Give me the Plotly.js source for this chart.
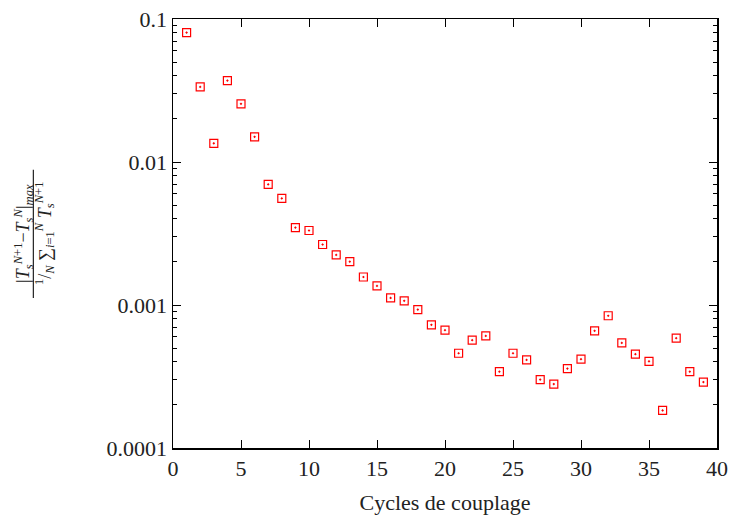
<!DOCTYPE html>
<html>
<head>
<meta charset="utf-8">
<script src="https://cdn.plot.ly/plotly-3.0.1.min.js"></script>
<style>html,body{margin:0;padding:0;background:#fff;}#chart{width:738px;height:524px;}</style>
</head>
<body>
<div id="chart"></div>
<script>
const cycles = [1,2,3,4,5,6,7,8,9,10,11,12,13,14,15,16,17,18,19,20,21,22,23,24,25,26,27,28,29,30,31,32,33,34,35,36,37,38,39];
const residual = [0.0804,0.0335,0.0135,0.0371,0.0255,0.0150,0.00697,0.00556,0.00348,0.00332,0.00265,0.00224,0.00201,0.00157,0.00136,0.00112,0.00107,0.000929,0.000727,0.000667,0.000460,0.000568,0.000608,0.000342,0.000460,0.000413,0.000301,0.000280,0.000359,0.000418,0.000660,0.000841,0.000543,0.000453,0.000404,0.000183,0.000586,0.000342,0.000289];
const yTickVals = [0.0001,0.001,0.01,0.1];
const yTickText = ['0.0001','0.001','0.01','0.1'];
const yMinorVals = [0.0002,0.0003,0.0004,0.0005,0.0006,0.0007,0.0008,0.0009,
                    0.002,0.003,0.004,0.005,0.006,0.007,0.008,0.009,
                    0.02,0.03,0.04,0.05,0.06,0.07,0.08,0.09];
const xTickVals = [0,5,10,15,20,25,30,35,40];
const xTitle = 'Cycles de couplage';
const yNumerator = '|<i>T</i><sub><i>s</i></sub><sup><i>N</i>+1</sup>−<i>T</i><sub><i>s</i></sub><sup><i>N</i></sup>|<sub><i>max</i></sub>';
const yDenominator = '<sup>1</sup>/<sub><i>N</i></sub> ∑<sub><i>i</i>=1</sub><sup><i>N</i></sup> <i>T</i><sub><i>s</i></sub><sup><i>N</i>+1</sup>';

const FONT = '"Liberation Serif", "DejaVu Serif", serif';

const trace = {
  x: cycles, y: residual, type: 'scatter', mode: 'markers',
  marker: {symbol: 'square-open-dot', size: 8, color: '#ff0000', line: {width: 1.2, color: '#ff0000'}},
  hoverinfo: 'skip', showlegend: false
};

const axisCommon = {
  showline: true, linecolor: '#000', linewidth: 1.5, mirror: 'allticks',
  ticks: 'inside', ticklen: 8, tickwidth: 1, tickcolor: '#000',
  showgrid: false, zeroline: false,
  tickfont: {family: FONT, size: 22, color: '#222'}
};

const layout = {
  width: 738, height: 524,
  margin: {l: 173, r: 21, t: 19, b: 76},
  paper_bgcolor: '#fff', plot_bgcolor: '#fff',
  font: {family: FONT},
  xaxis: Object.assign({}, axisCommon, {
    range: [0, 40], tickmode: 'array', tickvals: xTickVals, ticktext: xTickVals.map(String),
    title: {text: xTitle, font: {family: FONT, size: 22, color: '#222'}, standoff: 14}
  }),
  yaxis: Object.assign({}, axisCommon, {
    type: 'log', range: [-4, -1], tickmode: 'array', tickvals: yTickVals, ticktext: yTickText,
    minor: {tickmode: 'array', tickvals: yMinorVals, ticks: 'inside', ticklen: 4, tickcolor: '#000', tickwidth: 1, showgrid: false}
  }),
  annotations: [
    {xref: 'paper', yref: 'paper', x: -0.275, y: 0.50, text: yNumerator, showarrow: false, textangle: -90,
     font: {family: FONT, size: 18, color: '#222'}, xanchor: 'center', yanchor: 'middle'},
    {xref: 'paper', yref: 'paper', x: -0.236, y: 0.50, text: yDenominator, showarrow: false, textangle: -90,
     font: {family: FONT, size: 18, color: '#222'}, xanchor: 'center', yanchor: 'middle'}
  ],
  shapes: [
    {type: 'line', xref: 'paper', yref: 'paper', x0: -0.2567, x1: -0.2567, y0: 0.3496, y1: 0.6485,
     line: {color: '#222', width: 1.2}}
  ]
};

Plotly.newPlot('chart', [trace], layout, {staticPlot: true, displayModeBar: false});
</script>
</body>
</html>
